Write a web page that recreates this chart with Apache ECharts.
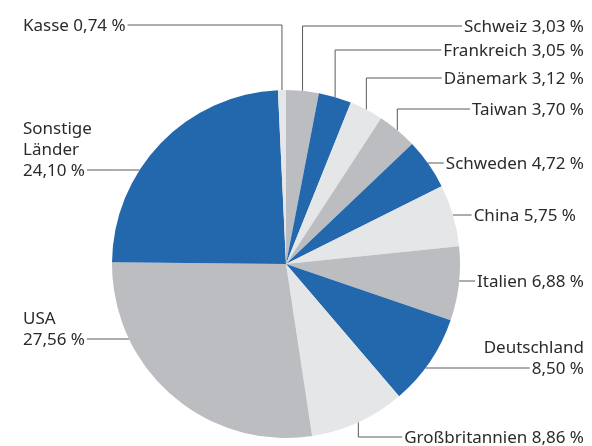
<!DOCTYPE html>
<html>
<head>
<meta charset="utf-8">
<script src="https://cdn.jsdelivr.net/npm/echarts@6/dist/echarts.min.js"></script>
<style>
html,body{margin:0;padding:0;background:#fff;}
#chart{width:592px;height:446px;}
</style>
</head>
<body>
<div id="chart"></div>
<script>
// ---- data ----
var categories = ['Schweiz', 'Frankreich', 'Dänemark', 'Taiwan', 'Schweden', 'China', 'Italien', 'Deutschland', 'Großbritannien', 'USA', 'Sonstige\nLänder', 'Kasse'];
var shares = [3.03, 3.05, 3.12, 3.70, 4.72, 5.75, 6.88, 8.50, 8.86, 27.56, 24.10, 0.74];
var valueOnNewLine = [false, false, false, false, false, false, false, true, false, true, true, false];

// ---- layout / style (not data) ----
var CX = 286, CY = 264, R = 174;
var FONT_SIZE = 17, LINE_H = 21, FONT_FAMILY = 'Noto Sans';
var palette = ['#bcbdc1', '#2367ad', '#e5e6e8'];
// label anchor: x of text edge, y of leader line, side, leader mode (v = vertical then horizontal, h = horizontal)
var labelAnchors = [
  {x: 584, y: 26, side: 'right', mode: 'v'},
  {x: 584, y: 50, side: 'right', mode: 'v'},
  {x: 584, y: 78, side: 'right', mode: 'v'},
  {x: 584, y: 109, side: 'right', mode: 'v'},
  {x: 584, y: 163, side: 'right', mode: 'h'},
  {x: 576, y: 215, side: 'right', mode: 'h'},
  {x: 584, y: 281, side: 'right', mode: 'h'},
  {x: 584, y: 368, side: 'right', mode: 'h'},
  {x: 584, y: 437, side: 'right', mode: 'v'},
  {x: 23, y: 339, side: 'left', mode: 'h'},
  {x: 23, y: 170, side: 'left', mode: 'h'},
  {x: 23, y: 25, side: 'left', mode: 'v'}
];

function fmt(v) { return v.toFixed(2).replace('.', ',') + ' %'; }
function labelText(i) { return categories[i] + (valueOnNewLine[i] ? '\n' : ' ') + fmt(shares[i]); }

var measureCtx = document.createElement('canvas').getContext('2d');
measureCtx.font = FONT_SIZE + 'px "' + FONT_FAMILY + '"';
function lastLineWidth(i) {
  var lines = labelText(i).split('\n');
  return measureCtx.measureText(lines[lines.length - 1]).width;
}

var seriesData = categories.map(function (c, i) {
  return {name: c, value: shares[i], itemStyle: {color: palette[i % 3]}};
});

var chart = echarts.init(document.getElementById('chart'), null, {renderer: 'canvas'});
chart.setOption({
  animation: false,
  series: [{
    type: 'pie',
    center: [CX, CY],
    radius: [0, R],
    startAngle: 90,
    clockwise: true,
    avoidLabelOverlap: false,
    data: seriesData,
    itemStyle: {borderWidth: 0},
    emphasis: {disabled: true},
    label: {
      show: true,
      position: 'outside',
      formatter: function (p) { return labelText(p.dataIndex); },
      fontFamily: FONT_FAMILY,
      fontSize: FONT_SIZE,
      lineHeight: LINE_H,
      color: '#2b2b2b'
    },
    labelLine: {
      show: true,
      lineStyle: {color: '#5a5a5a', width: 1}
    },
    labelLayout: function (params) {
      var i = params.dataIndex;
      var a = labelAnchors[i];
      var nLines = labelText(i).split('\n').length;
      var textY = a.y + 1 - (nLines - 1) * LINE_H / 2;
      var lw = lastLineWidth(i);
      var endX = a.side === 'right' ? a.x - lw - 2 : a.x + lw + 2;
      var pts;
      if (a.mode === 'v') {
        var p0 = params.labelLinePoints[0];
        pts = [[p0[0], p0[1]], [p0[0], a.y], [endX, a.y]];
      } else {
        var dy = a.y - CY;
        var dx = Math.sqrt(Math.max(0, R * R - dy * dy));
        var sx = a.side === 'right' ? CX + dx : CX - dx;
        pts = [[sx, a.y], [(sx + endX) / 2, a.y], [endX, a.y]];
      }
      return {
        x: a.x,
        y: textY,
        align: a.side === 'right' ? 'right' : 'left',
        verticalAlign: 'middle',
        labelLinePoints: pts
      };
    }
  }]
});
</script>
</body>
</html>
